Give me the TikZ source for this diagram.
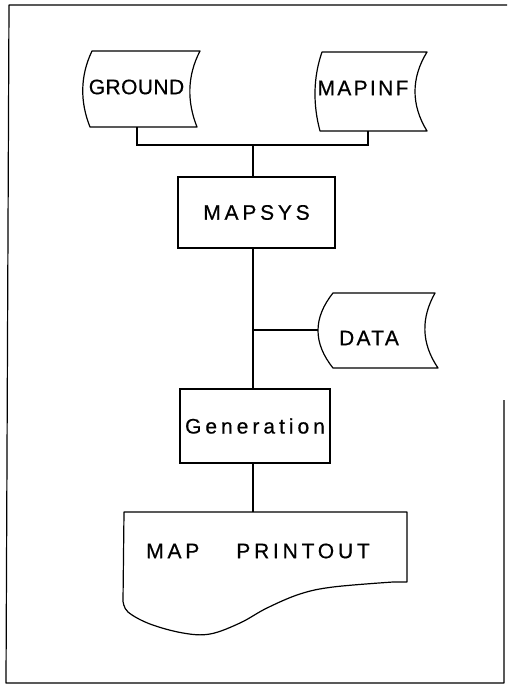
\documentclass[tikz,border=0pt]{standalone}
\usepackage{fontspec}
\setmainfont[FakeBold=0.6]{Liberation Sans}
\usetikzlibrary{calc}
% letter tracking for the plotter-style lettering
\newcommand{\trackby}[1]{\addfontfeature{LetterSpace=#1}}
\begin{document}
\begin{tikzpicture}[x=1pt,y=-1pt,
  every node/.style={inner sep=0pt, font=\fontsize{21}{24}\selectfont},
  outline/.style={line width=1.2pt, line join=round},
  link/.style={line width=1.2pt},
  procbox/.style={draw, line width=1.2pt, minimum width=#1},
  procbox/.default=150pt]
\useasboundingbox (0,0) rectangle (507,687);

% sheet frame
\draw[outline] (504,400) -- (504,683) -- (6,683) -- (9,5) -- (507,5);

% stored-data files
\draw[outline] (92,51) -- (200,51) .. controls (187,76) and (187,102) .. (197,127)
  -- (90,127) .. controls (80,102) and (80,76) .. (92,51) -- cycle;
\node (ground) at (136.5,87) {\trackby{2}GROUND};

\draw[outline] (322,52) -- (427,52) .. controls (411,78) and (411,105) .. (427,131)
  -- (320,131) .. controls (313,105) and (313,78) .. (322,52) -- cycle;
\node (mapinf) at (363,88) {\trackby{11}MAPINF};

\draw[outline] (333,293) -- (435,293) .. controls (421,318) and (421,343) .. (438,368)
  -- (333,368) .. controls (313,343) and (313,318) .. (333,293) -- cycle;
\node (data) at (369,338) {\trackby{11}DATA};

% processes
\node[procbox=157pt, minimum height=71pt] (mapsys) at (256.5,212.5)
  {\trackby{18}MAPSYS\hspace{20pt}};
\node[procbox=150pt, minimum height=74pt] (generation) at (255,426)
  {\trackby{19}Generation};

% printed output document
\draw[outline] (124,512) -- (407,512) -- (407,582) -- (393,582)
  -- plot[smooth, tension=0.6] coordinates {(393,582) (333,587) (300,594) (267,608)
    (240,623) (210,634) (183,633) (150,624) (128,612) (123,601)}
  -- cycle;
\node (printout) at (258,551) {\trackby{18}MAP\hspace{37pt}PRINTOUT};

% connection points
\coordinate (gfoot) at (137,127);
\coordinate (mfoot) at (368,131);
\coordinate (bus) at (253,145);
\coordinate (dataport) at (318,330);
\coordinate (ptop) at (253,512);

% connectors
\draw[link] (gfoot) |- (bus) -| (mfoot);
\draw[link] (bus) -- (bus |- mapsys.north);
\draw[link] (mapsys.south -| bus) -- (generation.north -| bus);
\draw[link] (dataport) -- (dataport -| bus);
\draw[link] (generation.south -| bus) -- (ptop);
\end{tikzpicture}
\end{document}
